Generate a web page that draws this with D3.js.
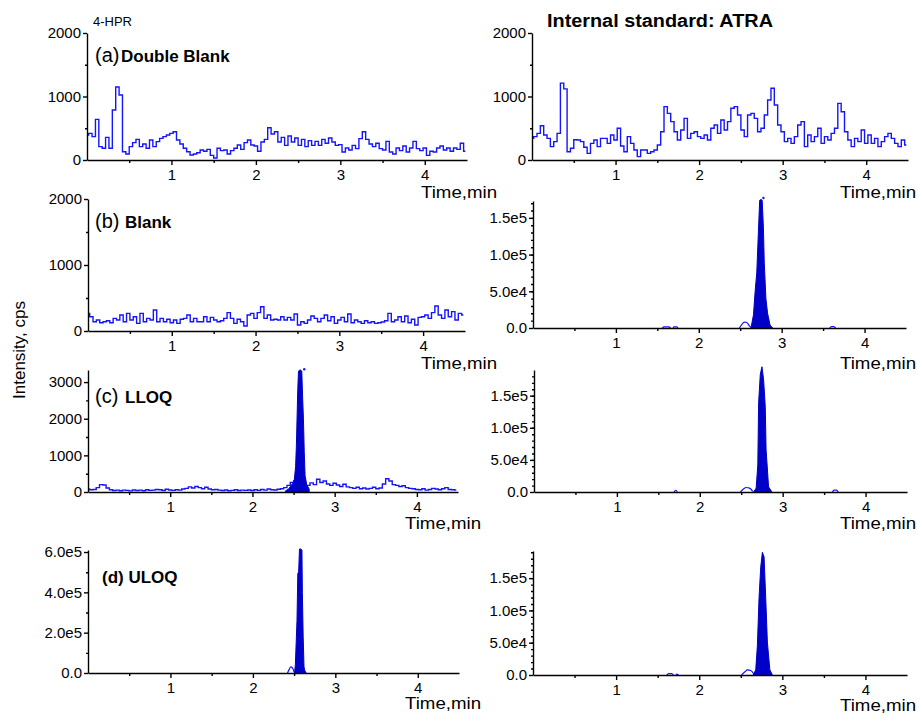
<!DOCTYPE html>
<html>
<head>
<meta charset="utf-8">
<style>
  body { margin: 0; background: #fff; }
  svg text { font-family: "Liberation Sans", Arial, sans-serif; fill: #000; }
  .axis path, .axis line { stroke: #000; stroke-width: 1.4px; }
  .trace { fill: none; stroke: #1414ff; stroke-width: 1.4px; }
  .peak { fill: #0000c8; stroke: #0000c8; stroke-width: 1px; }
  .bump { fill: none; stroke: #1414ff; stroke-width: 1.2px; }
</style>
</head>
<body>

<div id="chart"></div>

<script src="https://d3js.org/d3.v7.min.js"></script>
<script>

// noisy traces are sampled every 0.04 min starting at 0
var gridStep = 0.04;

// (a) double blank, 4-HPR channel (cps)
var hprDoubleBlank = [394,420,368,640,210,184,357,184,788,1150,
  1024,131,95,210,273,325,210,252,184,315, 210,289,341,368,394,420,446,315,252,184,
  131,79,95,115,158,137,168,73,32,184, 147,158,95,147,184,236,168,273,315,236,
  220,137,284,325,509,410,446,284,357,231, 378,284,347,231,325,210,305,231,294,231,
  325,263,347,284,231,242,126,189,158,231, 179,336,446,325,252,210,263,179,158,294,
  126,95,189,147,220,126,189,294,179,147, 189,73,137,126,189,220,158,189,137,189,
  168,263,137];

// (a) double blank, ATRA channel (cps)
var atraDoubleBlank = [341,368,420,540,394,341,210,289,420,1210,
  1120,130,184,320,315,289,200,105,262,315, 210,341,341,262,394,315,499,220,131,368,
  262,158,53,158,158,105,131,158,236,446, 840,735,604,446,315,473,656,341,420,446,
  368,341,394,315,499,552,420,630,473,604, 814,840,709,473,368,709,735,656,446,499,
  709,945,1129,866,552,446,289,341,262,368, 552,604,210,394,289,368,499,262,368,315,
  420,499,892,761,446,315,210,341,289,473, 262,394,262,341,210,289,368,420,341,262,
  210,315,236];

// (b) blank, 4-HPR channel (cps)
var hprBlank = [267,217,141,166,126,141,156,126,192,166,
  242,141,267,166,217,116,267,141,192,166, 318,141,192,141,177,126,166,116,177,192,
  242,141,192,141,141,217,141,207,166,141, 156,192,278,192,116,177,141,76,242,267,
  192,278,368,192,242,166,177,166,217,166, 207,166,257,91,141,116,166,227,192,141,
  192,242,156,217,116,166,207,141,257,126, 166,141,116,156,126,141,116,126,136,156,
  267,141,166,217,141,227,126,177,91,207, 217,242,192,278,379,242,192,318,217,293,
  166,267,242];

// (c) LLOQ, 4-HPR channel: baseline (cps) and the analyte peak
var hprLloqBase = [80,60,70,120,200,190,110,60,40,50,
  35,50,45,30,55,40,50,35,60,45, 50,70,60,40,75,55,45,60,50,80,
  100,140,110,150,120,90,130,80,60,70, 50,40,55,35,45,60,40,50,45,55,
  40,60,45,70,50,80,60,55,75,90, 120,180,260,300,280,200,150,180,250,200,
  350,260,300,220,180,240,190,150,210,140, 120,100,130,90,110,80,100,130,90,110,
  220,360,300,200,180,150,170,120,100,90, 70,60,90,50,70,100,80,60,90,120,
  70,60,50];
var hprLloqPeakT = [2.40,2.44,2.47,2.50,2.51,2.525,2.535,2.55,2.56,2.57,2.585,2.60,2.61,2.62,2.63,2.64,2.66,2.69];
var hprLloqPeakV = [30,80,180,260,350,700,1300,2700,3300,3320,3330,3300,2600,2000,1100,450,200,80];
var hprLloqDot = [[2.63, 3350]];

// (d) ULOQ, 4-HPR channel
var hprUloqPeakT = [2.505,2.515,2.525,2.535,2.545,2.555,2.565,2.58,2.595,2.60,2.61,2.62,2.63,2.645];
var hprUloqPeakV = [0,40000,150000,260000,495000,500000,615000,615000,610000,400000,180000,30000,12000,0];
var hprUloqBumps = [[[2.42,0],[2.44,18000],[2.46,30000],[2.48,25000],[2.50,5000]]];

// internal standard ATRA in (b), (c), (d)
var atraBlankPeakT = [2.63,2.66,2.68,2.70,2.72,2.735,2.75,2.765,2.78,2.79,2.81,2.83,2.86,2.89];
var atraBlankPeakV = [0,18000,50000,76000,133000,174000,175000,174000,136000,89000,40000,20000,4000,0];
var atraBlankBumps = [
  [[2.49,0],[2.52,5000],[2.55,8000],[2.58,7500],[2.61,3000],[2.64,0]],
  [[1.56,0],[1.58,1500],[1.64,1500],[1.66,0]],
  [[1.69,0],[1.70,1500],[1.73,1500],[1.75,0]],
  [[3.58,0],[3.60,1800],[3.63,1800],[3.65,0]]];
var atraBlankDot = [[2.78, 177000]];

var atraLloqPeakT = [2.65,2.68,2.70,2.71,2.73,2.75,2.77,2.79,2.80,2.83,2.87];
var atraLloqPeakV = [0,6000,42000,139000,183000,195000,175000,133000,66000,8000,0];
var atraLloqBumps = [
  [[2.49,0],[2.53,5000],[2.56,7000],[2.60,6000],[2.64,1000]],
  [[1.69,0],[1.71,2500],[1.73,0]],
  [[3.60,0],[3.62,3000],[3.65,3000],[3.67,0]]];

var atraUloqPeakT = [2.65,2.68,2.70,2.72,2.74,2.76,2.78,2.80,2.82,2.85,2.88];
var atraUloqPeakV = [0,8000,46000,120000,167000,190000,183000,120000,51000,8000,0];
var atraUloqBumps = [
  [[2.51,0],[2.55,5000],[2.58,8000],[2.62,7000],[2.66,1000]],
  [[1.61,0],[1.63,2000],[1.67,2000],[1.69,0]],
  [[1.72,0],[1.73,1500],[1.75,0]]];

// axis ticks
var xMajor = [1, 2, 3, 4];
var xMinor = [0.5, 1.5, 2.5, 3.5];

var svg = d3.select("#chart").append("svg")
    .attr("width", 917)
    .attr("height", 714);

var sci = function(d) { return d === 0 ? "0.0" : d3.format(".1e")(d).replace("e+", "e"); };
var plain = d3.format("d");

// panel layout
var panels = [
  { x0: 87, x1: 467, yb: 160, yt: 33, ymax: 2000, yMajor: [0,1000,2000], yMinor: [500,1500], fmt: plain,
    noise: hprDoubleBlank, timeX: 497, timeY: 198 },
  { x0: 532, x1: 908, yb: 160, yt: 33, ymax: 2000, yMajor: [0,1000,2000], yMinor: [500,1500], fmt: plain,
    noise: atraDoubleBlank, timeX: 916, timeY: 198 },
  { x0: 88, x1: 465, yb: 331, yt: 199, ymax: 2000, yMajor: [0,1000,2000], yMinor: [500,1500], fmt: plain,
    noise: hprBlank, timeX: 497, timeY: 369 },
  { x0: 533, x1: 906, yb: 328, yt: 201, ymax: 173000, yMajor: [0,50000,100000,150000], yMinor: d3.range(10000, 173000, 10000), fmt: sci,
    peakT: atraBlankPeakT, peakV: atraBlankPeakV, bumps: atraBlankBumps, dots: atraBlankDot, timeX: 916, timeY: 369 },
  { x0: 88, x1: 458, yb: 492, yt: 370, ymax: 3330, yMajor: [0,1000,2000,3000], yMinor: [500,1500,2500], fmt: plain,
    noise: hprLloqBase, peakT: hprLloqPeakT, peakV: hprLloqPeakV, dots: hprLloqDot, timeX: 481, timeY: 529 },
  { x0: 534, x1: 907, yb: 492, yt: 370, ymax: 190000, yMajor: [0,50000,100000,150000], yMinor: d3.range(10000, 190000, 10000), fmt: sci,
    peakT: atraLloqPeakT, peakV: atraLloqPeakV, bumps: atraLloqBumps, timeX: 916, timeY: 529 },
  { x0: 88, x1: 459, yb: 673, yt: 550, ymax: 610000, yMajor: [0,200000,400000,600000], yMinor: [100000,300000,500000], fmt: sci,
    peakT: hprUloqPeakT, peakV: hprUloqPeakV, bumps: hprUloqBumps, timeX: 481, timeY: 709 },
  { x0: 533, x1: 907, yb: 675, yt: 551, ymax: 192000, yMajor: [0,50000,100000,150000], yMinor: d3.range(10000, 192000, 10000), fmt: sci,
    peakT: atraUloqPeakT, peakV: atraUloqPeakV, bumps: atraUloqBumps, timeX: 916, timeY: 711 }
];

panels.forEach(function(p) {
  var x = d3.scaleLinear().domain([0, 4.5]).range([p.x0, p.x1]);
  var y = d3.scaleLinear().domain([0, p.ymax]).range([p.yb, p.yt]);
  var g = svg.append("g");

  var stepLine = d3.line()
      .curve(d3.curveStep)
      .x(function(d) { return x(d[0]); })
      .y(function(d) { return y(d[1]); });
  var smoothLine = d3.line()
      .curve(d3.curveMonotoneX)
      .x(function(d) { return x(d[0]); })
      .y(function(d) { return y(d[1]); });

  // noisy trace
  if (p.noise) {
    g.append("path")
        .datum(p.noise.map(function(v, i) { return [i * gridStep, v]; }))
        .attr("class", "trace")
        .attr("d", stepLine);
  }

  // small open humps
  if (p.bumps) {
    p.bumps.forEach(function(b) {
      g.append("path")
          .datum(b)
          .attr("class", "bump")
          .attr("d", smoothLine);
    });
  }

  // main peak, drawn filled
  if (p.peakT) {
    var area = d3.area()
        .x(function(d) { return x(d[0]); })
        .y0(y(0))
        .y1(function(d) { return y(d[1]); });
    g.append("path")
        .datum(p.peakT.map(function(t, i) { return [t, p.peakV[i]]; }))
        .attr("class", "peak")
        .attr("d", area);
  }

  if (p.dots) {
    g.selectAll(".dot").data(p.dots).enter().append("circle")
        .attr("cx", function(d) { return x(d[0]); })
        .attr("cy", function(d) { return y(d[1]); })
        .attr("r", 1.2)
        .attr("fill", "#1414ff");
  }

  // x axis
  g.append("g")
      .attr("class", "axis")
      .attr("transform", "translate(0," + p.yb + ")")
      .call(d3.axisBottom(x).tickValues(xMajor).tickFormat(plain)
        .tickSize(5).tickPadding(4).tickSizeOuter(0))
      .attr("font-family", null).attr("font-size", 15);
  g.append("g")
      .attr("class", "axis")
      .attr("transform", "translate(0," + p.yb + ")")
      .call(d3.axisBottom(x).tickValues(xMinor).tickFormat("").tickSize(3).tickSizeOuter(0))
      .select(".domain").remove();

  // y axis
  g.append("g")
      .attr("class", "axis")
      .attr("transform", "translate(" + p.x0 + ",0)")
      .call(d3.axisLeft(y).tickValues(p.yMajor).tickFormat(p.fmt)
        .tickSize(4).tickPadding(2).tickSizeOuter(0))
      .attr("font-family", null).attr("font-size", 15);
  g.append("g")
      .attr("class", "axis")
      .attr("transform", "translate(" + p.x0 + ",0)")
      .call(d3.axisLeft(y).tickValues(p.yMinor).tickFormat("").tickSize(2).tickSizeOuter(0))
      .select(".domain").remove();

  g.append("text")
      .attr("x", p.timeX)
      .attr("y", p.timeY)
      .attr("text-anchor", "end")
      .attr("font-size", 16)
      .attr("textLength", 76)
      .attr("lengthAdjust", "spacingAndGlyphs")
      .text("Time,min");
});

// panel captions
svg.append("text").attr("x", 93).attr("y", 26).attr("font-size", 13).text("4-HPR");
svg.append("text").attr("x", 547).attr("y", 27).attr("font-size", 18).attr("font-weight", "bold")
    .attr("textLength", 226).attr("lengthAdjust", "spacingAndGlyphs")
    .text("Internal standard: ATRA");

var captions = [
  { y: 62, tag: "(a)", name: "Double Blank", nx: 121 },
  { y: 228, tag: "(b)", name: "Blank", nx: 125 },
  { y: 403, tag: "(c)", name: "LLOQ", nx: 125 }
];
captions.forEach(function(c) {
  svg.append("text").attr("x", 95).attr("y", c.y).attr("font-size", 20).text(c.tag);
  svg.append("text").attr("x", c.nx).attr("y", c.y).attr("font-size", 17)
      .attr("font-weight", "bold").text(c.name);
});
svg.append("text").attr("x", 102).attr("y", 583).attr("font-size", 17)
    .attr("font-weight", "bold").text("(d) ULOQ");

svg.append("text")
    .attr("transform", "translate(25,350) rotate(-90)")
    .attr("text-anchor", "middle")
    .attr("font-size", 17)
    .text("Intensity, cps");

</script>
</body>
</html>
